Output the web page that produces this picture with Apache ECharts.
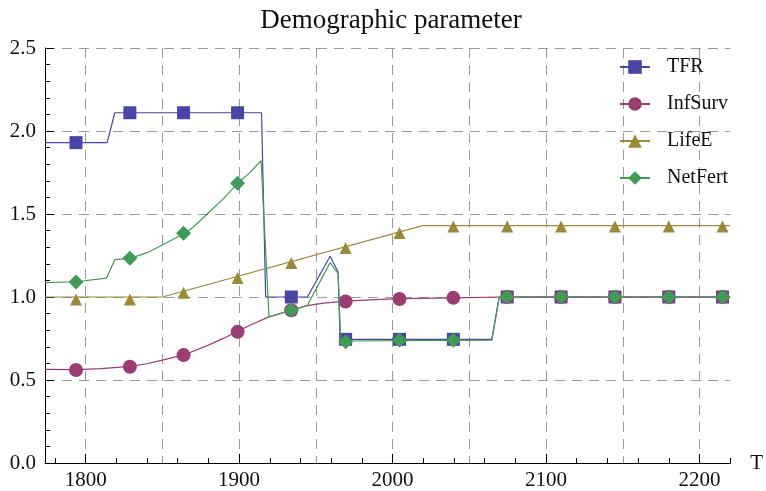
<!DOCTYPE html>
<html><head><meta charset="utf-8">
<script src="https://cdn.jsdelivr.net/npm/echarts@6/dist/echarts.min.js"></script>
<style>html,body{margin:0;padding:0;background:#fff}#c{width:766px;height:491px}</style>
</head><body><div id="c"></div>
<script>
// ---- data ----
const seriesNames = ['TFR', 'InfSurv', 'LifeE', 'NetFert'];
const xLabelTicks = [1800, 1900, 2000, 2100, 2200];
const xMinorTicks = [1780,1800,1820,1840,1860,1880,1900,1920,1940,1960,1980,2000,2020,2040,2060,2080,2100,2120,2140,2160,2180,2200,2220];
const xGridTicks = [1800,1850,1900,1950,2000,2050,2100,2150,2200];
const yMinorTicks = [0.1,0.2,0.3,0.4,0.6,0.7,0.8,0.9,1.1,1.2,1.3,1.4,1.6,1.7,1.8,1.9,2.1,2.2,2.3,2.4];

// line curves (year, value)
const tfrLine = [[1773.5,1.93],[1814,1.93],[1819,2.11],[1914.6,2.11],[1917.3,1.0],[1944.5,1.0],[1959.3,1.245],[1964.5,1.15],[1965.8,0.745],[2064.7,0.745],[2069.5,1.0],[2220,1.0]];
const infSurvLine = [[1773.5,0.564],[1794,0.563],[1810,0.569],[1829,0.582],[1840,0.598],[1850,0.62],[1864,0.651],[1880,0.71],[1890,0.752],[1899,0.793],[1907,0.83],[1919.5,0.88],[1934,0.92],[1944.5,0.948],[1955,0.963],[1970,0.975],[1985,0.983],[2005,0.99],[2040,0.995],[2070,1.0],[2220,1.0]];
const lifeELine = [[1773.5,1.0],[1850,1.0],[2019.5,1.43],[2220,1.43]];
const netFertLine = [[1773.5,1.087],[1794,1.092],[1813.6,1.114],[1819,1.225],[1829,1.233],[1840,1.267],[1850,1.313],[1864.5,1.384],[1870,1.42],[1878.5,1.494],[1890,1.594],[1899,1.685],[1906,1.74],[1914.3,1.821],[1919.5,0.88],[1934,0.92],[1944.5,0.95],[1959.3,1.207],[1964.5,1.14],[1966.2,0.731],[1970,0.735],[2064.7,0.74],[2069.5,1.0],[2220,1.0]];

// marker positions
const markerYears = [1793.7,1828.8,1863.8,1899,1934,1969.4,2004.5,2039.6,2074.7,2109.8,2144.9,2180,2215];
const tfrMarks = [1.93,2.11,2.11,2.11,1.0,0.745,0.745,0.745,1.0,1.0,1.0,1.0,1.0];
const infSurvMarks = [0.56,0.58,0.65,0.79,0.92,0.973,0.988,0.995,1.0,1.0,1.0,1.0,1.0];
const lifeEMarks = [0.985,0.985,1.025,1.115,1.205,1.295,1.385,1.425,1.425,1.425,1.425,1.425,1.425];
const netFertMarks = [1.09,1.233,1.384,1.685,0.92,0.73,0.74,0.74,1.0,1.0,1.0,1.0,1.0];

// ---- styling ----
const colors = ['#4a46a5', '#9b3c73', '#9c8a3b', '#3f9b56'];
const symbols = ['rect', 'circle', 'triangle', 'diamond'];
const sizes = [13, 14, 12, 15];
const lines = [tfrLine, infSurvLine, lifeELine, netFertLine];
const marks = [tfrMarks, infSurvMarks, lifeEMarks, netFertMarks];
const FONT = 'Liberation Serif';

const series = [];
seriesNames.forEach((n, i) => {
  series.push({
    name: n, type: 'line', data: lines[i], xAxisIndex: 0,
    symbol: symbols[i], symbolSize: sizes[i], showSymbol: false,
    lineStyle: { color: colors[i], width: 1.2 }, itemStyle: { color: colors[i] },
    z: 2 + i * 2, animation: false, silent: true
  });
});
seriesNames.forEach((n, i) => {
  series.push({
    name: n, type: 'scatter', xAxisIndex: 0,
    data: markerYears.map((yr, k) => [yr, marks[i][k]]),
    symbol: symbols[i], symbolSize: sizes[i],
    itemStyle: { color: colors[i], opacity: 1 },
    z: 3 + i * 2, animation: false, silent: true
  });
});

const chart = echarts.init(document.getElementById('c'), null, { renderer: 'canvas' });
chart.setOption({
  animation: false,
  backgroundColor: '#fff',
  textStyle: { fontFamily: FONT },
  title: {
    text: 'Demographic parameter', left: 386, top: 2, textAlign: 'center',
    textStyle: { fontFamily: FONT, fontSize: 27, fontWeight: 'normal', color: '#111' }
  },
  legend: {
    data: seriesNames, orient: 'vertical', left: 619, top: 57, padding: 0,
    itemWidth: 30, itemHeight: 17, itemGap: 17,
    textStyle: { fontFamily: FONT, fontSize: 20, color: '#111', padding: [0, 0, 0, 12] }
  },
  grid: { left: 45, right: 34, top: 48, bottom: 28, containLabel: false },
  xAxis: [
    {
      type: 'value', min: 1773.5, max: 2220, position: 'bottom',
      name: 'T', nameLocation: 'end', nameGap: 20,
      nameTextStyle: { fontFamily: FONT, fontSize: 21, color: '#111', verticalAlign: 'middle' },
      axisLine: { show: true, lineStyle: { color: '#000', width: 1 } },
      axisTick: { show: true, inside: true, length: 9, customValues: xLabelTicks, lineStyle: { color: '#000' } },
      axisLabel: { customValues: xLabelTicks, fontFamily: FONT, fontSize: 21, color: '#111', margin: 7, formatter: v => String(Math.round(v)) },
      splitLine: { show: false }
    },
    {
      type: 'value', min: 1773.5, max: 2220, position: 'bottom', offset: 0,
      axisLine: { show: false },
      axisTick: { show: true, inside: true, length: 5, customValues: xMinorTicks, lineStyle: { color: '#000' } },
      axisLabel: { show: false },
      splitLine: { show: false }
    },
    {
      type: 'value', min: 1773.5, max: 2220, position: 'bottom', offset: 0,
      axisLine: { show: false },
      axisTick: { show: false, customValues: xGridTicks },
      axisLabel: { show: false },
      splitLine: { show: true, lineStyle: { color: '#9a9a9a', width: 1, type: [10, 7] } }
    }
  ],
  yAxis: [
    {
      type: 'value', min: 0, max: 2.5, interval: 0.5, position: 'left',
      axisLine: { show: true, lineStyle: { color: '#000', width: 1 } },
      axisTick: { show: true, inside: true, length: 9, lineStyle: { color: '#000' } },
      axisLabel: { fontFamily: FONT, fontSize: 21, color: '#111', margin: 9, formatter: v => v.toFixed(1) },
      splitLine: { show: true, lineStyle: { color: '#9a9a9a', width: 1, type: [10, 7] } }
    },
    {
      type: 'value', min: 0, max: 2.5, position: 'left', offset: 0,
      axisLine: { show: false },
      axisTick: { show: true, inside: true, length: 5, customValues: yMinorTicks, lineStyle: { color: '#000' } },
      axisLabel: { show: false },
      splitLine: { show: false }
    }
  ],
  series: series
});
</script></body></html>
